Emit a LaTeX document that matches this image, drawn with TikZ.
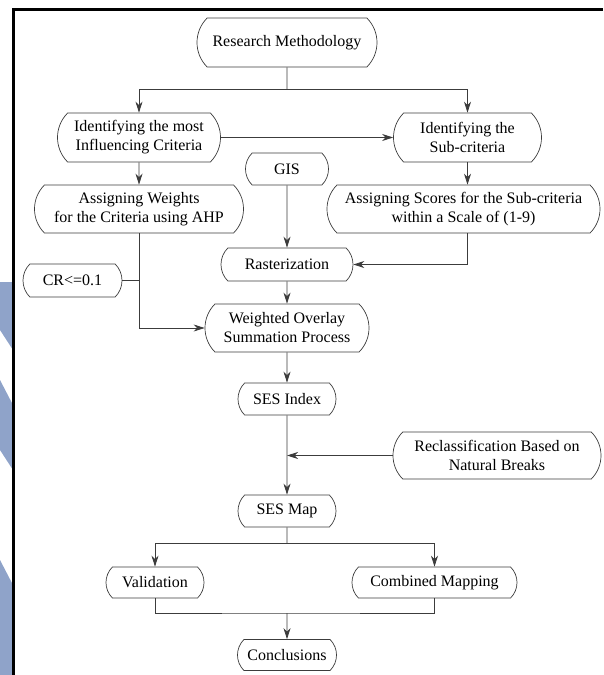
\documentclass[tikz,border=0pt]{standalone}
\usepackage{fontspec}
\setmainfont{Liberation Serif}
\usetikzlibrary{arrows.meta,shapes.misc}
\definecolor{wmblue}{RGB}{143,163,201}
\definecolor{linegray}{RGB}{60,60,60}
\tikzset{box/.style={draw=linegray, line width=0.7pt, rounded rectangle, rounded rectangle arc length=90,
  inner sep=0pt, align=center, font=\fontsize{16}{19}\selectfont, text=black},
  arr/.style={draw=linegray, line width=0.8pt, -{Stealth[length=11pt,width=7pt,inset=3.5pt]}},
  ln/.style={draw=linegray, line width=0.8pt}}

\begin{document}
\begin{tikzpicture}[x=1pt,y=-1pt]
  \useasboundingbox (0,0) rectangle (603,675);
  % watermark
  \fill[wmblue] (0,282) -- (13,282) -- (13,350) -- (0,330) -- cycle;
  \fill[wmblue] (0,380) -- (13,405) -- (13,470) -- (0,450) -- cycle;
  \fill[wmblue] (0,560) -- (13,585) -- (13,675) -- (0,675) -- cycle;
  \draw[line width=3pt] (13,675) -- (13,9) -- (603,9);

  \node[box, minimum width=180pt, minimum height=49pt] (rm) at (287,42.5) {Research Methodology};
  \node[box, minimum width=163pt, minimum height=49pt] (ic) at (139,137.5) {Identifying the most\\Influencing Criteria};
  \node[box, minimum width=148pt, minimum height=49pt] (sc) at (467.5,137.5) {Identifying the\\Sub-criteria};
  \node[box, minimum width=83pt, minimum height=32pt] (gis) at (287,169) {GIS};
  \node[box, minimum width=209pt, minimum height=48pt] (aw) at (139,209) {Assigning Weights\\for the Criteria using AHP};
  \node[box, minimum width=273pt, minimum height=48pt] (as) at (463.5,209) {Assigning Scores for the Sub-criteria\\within a Scale of (1-9)};
  \node[box, minimum width=132pt, minimum height=33pt] (rz) at (287,264.5) {Rasterization};
  \node[box, minimum width=99pt, minimum height=33pt] (cr) at (72.5,280.5) {CR<=0.1};
  \node[box, minimum width=164pt, minimum height=48pt] (wo) at (287,328) {Weighted Overlay\\Summation Process};
  \node[box, minimum width=98pt, minimum height=32pt] (si) at (287,399) {SES Index};
  \node[box, minimum width=208pt, minimum height=47pt] (rb) at (497,455.5) {Reclassification Based on\\Natural Breaks};
  \node[box, minimum width=98pt, minimum height=32pt] (sm) at (287,511) {SES Map};
  \node[box, minimum width=98pt, minimum height=31pt] (va) at (155,582.5) {Validation};
  \node[box, minimum width=165pt, minimum height=31pt] (cm) at (434.5,582.5) {Combined Mapping};
  \node[box, minimum width=99pt, minimum height=31pt] (co) at (287,655) {Conclusions};

  \coordinate (j1) at (287,89);
  \coordinate (j2) at (287,543);
  \coordinate (j3) at (287,613);

  \draw[ln] (rm) -- (j1);
  \draw[arr] (j1) -| (ic.north);
  \draw[arr] (j1) -| (sc.north);
  \draw[arr] (ic) -- (sc);
  \draw[arr] (ic) -- (aw);
  \draw[arr] (sc.south) -- (sc.south |- as.north);
  \draw[arr] (gis) -- (rz);
  \draw[arr] (as.south -| sc.south) |- (rz.east);
  \draw[arr] (aw.south) |- (wo.west);
  \draw[ln] (cr.east) -- (cr.east -| aw.south);
  \draw[arr] (rz) -- (wo);
  \draw[arr] (wo) -- (si);
  \draw[arr] (si) -- (sm);
  \draw[arr] (rb.west) -- (rb.west -| si.south);
  \draw[ln] (sm) -- (j2);
  \draw[arr] (j2) -| (va.north);
  \draw[arr] (j2) -| (cm.north);
  \draw[ln] (va.south) |- (j3) -| (cm.south);
  \draw[arr] (j3) -- (co);
\end{tikzpicture}
\end{document}
